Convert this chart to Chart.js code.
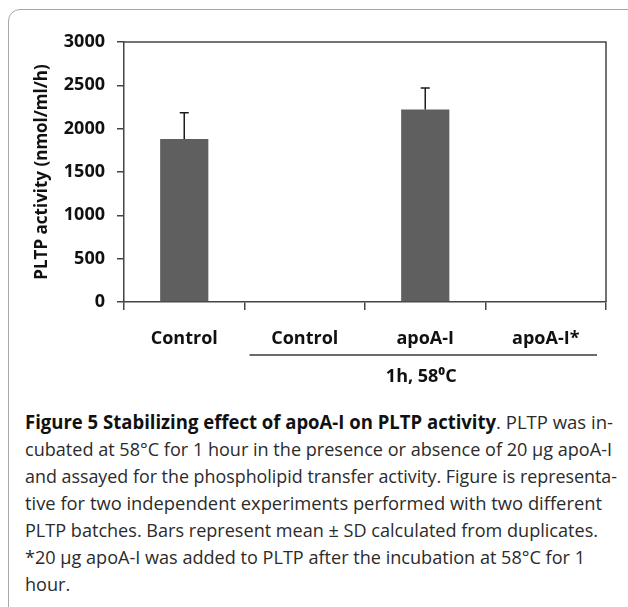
<!DOCTYPE html>
<html>
<head>
<meta charset="utf-8">
<title>Figure 5</title>
<script src="https://cdn.jsdelivr.net/npm/chart.js@4.4.1/dist/chart.umd.min.js"></script>
<style>
  html, body { margin: 0; padding: 0; background: #fff; }
  body { width: 628px; height: 607px; position: relative; overflow: hidden; font-family: "Open Sans", sans-serif; }
  .frame { position: absolute; left: 8px; top: 9px; width: 632px; height: 640px; border: 1.5px solid #a8a8a8; border-radius: 12px; box-sizing: border-box; }
  #fig5 { position: absolute; left: 0; top: 0; }
  .caption { position: absolute; left: 25px; top: 409px; font-size: 19px; line-height: 27px; color: #2b2b2b; }
  .caption div { white-space: nowrap; height: 27px; }
  .caption span { display: inline-block; transform-origin: 0 50%; }
  .caption b { color: #111; }
</style>
</head>
<body>
<div class="frame"></div>
<canvas id="fig5" width="628" height="400"></canvas>
<div class="caption" id="caption"></div>
<script>
'use strict';

// CHART DATA
var categories = ['Control', 'Control', 'apoA-I', 'apoA-I*'];
var meanActivity = [1880, 0, 2220, 0];
var sdActivity = [305, 0, 250, 0];
var yTicks = [0, 500, 1000, 1500, 2000, 2500, 3000];
var groupLabel = '1h, 58\u2070C';
var groupCats = [1, 3];

// CAPTION TEXT, ONE ENTRY PER LINE, AND WHERE EACH LINE ENDS
var captionLines = [
    '<b>Figure 5 Stabilizing effect of apoA-I on PLTP activity</b>. PLTP was in-',
    'cubated at 58°C for 1 hour in the presence or absence of 20 µg apoA-I',
    'and assayed for the phospholipid transfer activity. Figure is representa-',
    'tive for two independent experiments performed with two different',
    'PLTP batches. Bars represent mean ± SD calculated from duplicates.',
    '*20 µg apoA-I was added to PLTP after the incubation at 58°C for 1',
    'hour.'
];
var captionEnds = [613, 612, 617, 602, 598, 585, null];

var fig5js = function () {
    var fontFamily = '"Open Sans", "DejaVu Sans", sans-serif';
    var axisColor = '#454545';
    var textColor = '#111111';

    return {

        init: function () {
            fig5js.handleCaption();
            fig5js.handleBarChart();
        },

        //ERROR BARS, UPPER HALF ONLY
        errorBars: {
            id: 'errorBars',
            afterDatasetsDraw: function (chart) {
                var ctx = chart.ctx;
                var y = chart.scales.y;
                var bars = chart.getDatasetMeta(0).data;
                ctx.save();
                ctx.strokeStyle = '#1c1c1c';
                ctx.lineWidth = 1.5;
                bars.forEach(function (bar, i) {
                    if (!sdActivity[i]) return;
                    var yMean = y.getPixelForValue(meanActivity[i]);
                    var yTop = y.getPixelForValue(meanActivity[i] + sdActivity[i]);
                    ctx.beginPath();
                    ctx.moveTo(bar.x, yMean);
                    ctx.lineTo(bar.x, yTop);
                    ctx.moveTo(bar.x - 4.5, yTop);
                    ctx.lineTo(bar.x + 4.5, yTop);
                    ctx.stroke();
                });
                ctx.restore();
            }
        },

        //PLOT FRAME (TOP + RIGHT) AND THE "1h, 58C" GROUP BRACKET
        extras: {
            id: 'extras',
            afterDraw: function (chart) {
                var ctx = chart.ctx;
                var area = chart.chartArea;
                var x = chart.scales.x;
                var catW = x.width / categories.length;
                ctx.save();
                ctx.strokeStyle = axisColor;
                ctx.lineWidth = 1.5;
                ctx.beginPath();
                ctx.moveTo(area.left, area.top);
                ctx.lineTo(area.right, area.top);
                ctx.lineTo(area.right, area.bottom);
                ctx.stroke();

                var x1 = x.getPixelForValue(groupCats[0]) - catW / 2 + 5;
                var x2 = x.getPixelForValue(groupCats[1]) + catW / 2 - 9;
                ctx.strokeStyle = '#3a3a3a';
                ctx.beginPath();
                ctx.moveTo(x1, 355);
                ctx.lineTo(x2, 355);
                ctx.stroke();

                ctx.fillStyle = textColor;
                ctx.font = 'bold 18px ' + fontFamily;
                ctx.textAlign = 'center';
                ctx.textBaseline = 'middle';
                var mid = (groupCats[0] + groupCats[1]) / 2;
                ctx.fillText(groupLabel, x.getPixelForValue(mid) - 4, 377);
                ctx.restore();
            }
        },

        handleBarChart: function () {
            var tickFont = { family: fontFamily, size: 18, weight: 'bold' };
            new Chart(document.getElementById('fig5'), {
                type: 'bar',
                data: {
                    labels: categories,
                    datasets: [{
                        data: meanActivity,
                        backgroundColor: '#5f5f5f',
                        borderWidth: 0,
                        barPercentage: 0.4,
                        categoryPercentage: 1.0
                    }]
                },
                options: {
                    responsive: false,
                    animation: false,
                    layout: { padding: { top: 42, right: 22, bottom: 0, left: 0 } },
                    plugins: {
                        legend: { display: false },
                        tooltip: { enabled: false }
                    },
                    scales: {
                        x: {
                            grid: { display: true, offset: true, drawOnChartArea: false, drawTicks: true,
                                    tickLength: 8, color: axisColor, lineWidth: 1.5 },
                            border: { display: true, color: axisColor, width: 1.5 },
                            ticks: { font: tickFont, color: textColor, padding: 18 },
                            afterFit: function (s) { s.height = 98; }
                        },
                        y: {
                            min: yTicks[0],
                            max: yTicks[yTicks.length - 1],
                            grid: { drawOnChartArea: false, drawTicks: true, tickLength: 7,
                                    color: axisColor, lineWidth: 1.5 },
                            border: { display: true, color: axisColor, width: 1.5 },
                            ticks: {
                                stepSize: yTicks[1] - yTicks[0],
                                font: tickFont,
                                color: textColor,
                                padding: 12,
                                callback: function (v) { return String(v); }
                            },
                            title: {
                                display: true,
                                text: 'PLTP activity (nmol/ml/h)',
                                font: { family: fontFamily, size: 17, weight: 'bold' },
                                color: textColor,
                                padding: { top: 32, bottom: 0 }
                            },
                            afterFit: function (s) { s.width = 124; }
                        }
                    }
                },
                plugins: [fig5js.errorBars, fig5js.extras]
            });
        },

        //CAPTION LINES, SQUEEZED TO THE SAME LINE ENDS AS THE PRINTED FIGURE
        handleCaption: function () {
            var box = document.getElementById('caption');
            var lastScale = 1;
            captionLines.forEach(function (line, i) {
                var row = document.createElement('div');
                var span = document.createElement('span');
                span.innerHTML = line;
                row.appendChild(span);
                box.appendChild(row);
                var w = span.getBoundingClientRect().width;
                var s = captionEnds[i] ? (captionEnds[i] - 25) / w : lastScale;
                lastScale = s;
                span.style.transform = 'scaleX(' + s.toFixed(4) + ')';
            });
        }
    };
}();

fig5js.init();
</script>
</body>
</html>
